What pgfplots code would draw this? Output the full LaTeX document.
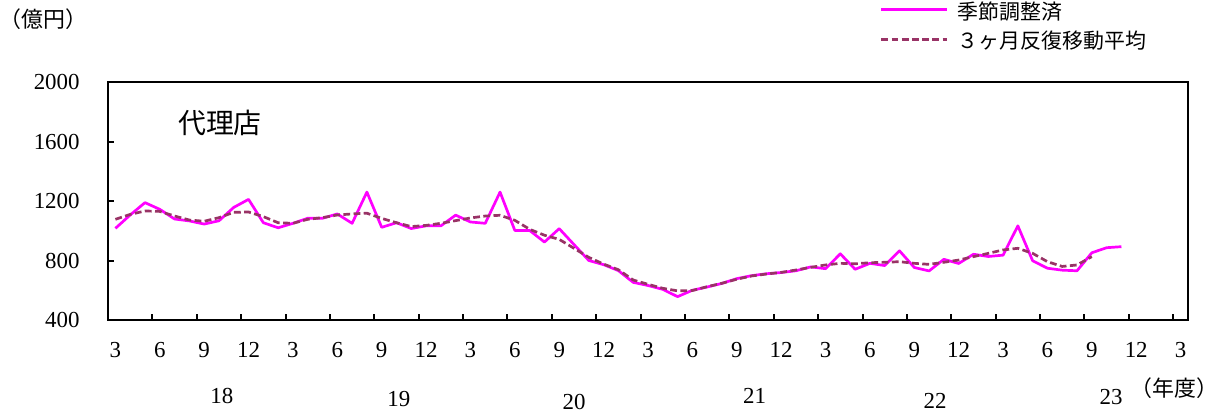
\documentclass[border=0pt]{standalone}
\usepackage{fontspec}
\setmainfont{Liberation Serif}
\newfontfamily\cjk{Noto Sans CJK JP}
\usepackage{pgfplots}
\pgfplotsset{compat=1.18}
\definecolor{magline}{RGB}{255,0,255}
\definecolor{maline}{RGB}{153,51,102}
\begin{document}
\begin{tikzpicture}
\useasboundingbox (-54bp,-46bp) rectangle (555bp,160bp);
\begin{axis}[
  at={(0,0)}, anchor=south west,
  width=540bp, height=119bp, scale only axis,
  xmin=-0.5, xmax=72.5, ymin=400, ymax=2000,
  clip=false,
  axis line style={line width=1.2bp},
  xtick={-0.5,2.5,...,71.5},
  xticklabels={3,6,9,12,3,6,9,12,3,6,9,12,3,6,9,12,3,6,9,12,3,6,9,12,3},
  xticklabel style={anchor=north, inner sep=0pt, yshift=-11bp, xshift=3.6986bp},
  ytick={400,800,1200,1600,2000},
  yticklabels={400,800,1200,1600,2000},
  yticklabel style={anchor=east, inner sep=0pt, xshift=-14bp},
  tick label style={font=\fontsize{11.5}{13}\selectfont},
  tick align=inside, tick pos=left,
  major tick length=2.8bp,
  tick style={line width=1bp, black},
  legend image code/.code={\draw[#1] (0bp,1bp) -- (33bp,1bp); \path (37.5bp,0bp);},
  legend style={draw=none, fill=none, inner sep=0pt, outer sep=0pt,
    at={(axis description cs:0.7148,1.3386)}, anchor=north west,
    font=\cjk\fontsize{10.5}{12}\selectfont, row sep=4.5bp,
    nodes={inner sep=0pt, anchor=west}},
  legend cell align=left,
]
\addplot[magline, line width=1.35bp, line join=round] coordinates {
(0,1016)(1,1106)(2,1189)(3,1144)(4,1079)(5,1066)(6,1045)(7,1067)(8,1157)(9,1211)
(10,1054)(11,1020)(12,1050)(13,1084)(14,1084)(15,1113)(16,1050)(17,1260)(18,1023)(19,1054)
(20,1015)(21,1033)(22,1033)(23,1105)(24,1059)(25,1050)(26,1260)(27,1002)(28,1002)(29,924)
(30,1014)(31,907)(32,800)(33,772)(34,732)(35,653)(36,632)(37,606)(38,557)(39,600)
(40,622)(41,646)(42,678)(43,698)(44,711)(45,719)(46,731)(47,757)(48,745)(49,845)
(50,741)(51,781)(52,766)(53,865)(54,753)(55,730)(56,808)(57,780)(58,842)(59,827)
(60,836)(61,1033)(62,798)(63,748)(64,735)(65,731)(66,852)(67,886)(68,893)
};
\addlegendentry{季節調整済}
\addplot[maline, line width=1.35bp, dash pattern=on 3.4bp off 1.7bp] coordinates {
(0,1077)(1,1110)(2,1133)(3,1130)(4,1099)(5,1072)(6,1064)(7,1088)(8,1124)(9,1126)
(10,1095)(11,1054)(12,1050)(13,1077)(14,1088)(15,1106)(16,1113)(17,1118)(18,1083)(19,1054)
(20,1028)(21,1036)(22,1050)(23,1068)(24,1086)(25,1099)(26,1104)(27,1070)(28,1010)(29,970)
(30,942)(31,882)(32,821)(33,776)(34,738)(35,669)(36,640)(37,613)(38,596)(39,598)
(40,624)(41,647)(42,674)(43,696)(44,709)(45,720)(46,736)(47,754)(48,770)(49,781)
(50,778)(51,785)(52,788)(53,792)(54,781)(55,774)(56,788)(57,803)(58,826)(59,848)
(60,871)(61,882)(62,848)(63,792)(64,760)(65,770)(66,826)
};
\addlegendentry{３ヶ月反復移動平均}
\begin{scope}[every node/.style={inner sep=0pt}]
\node[font=\cjk\fontsize{14}{16}\selectfont] at (axis cs:7.07,1724) {代理店};
\node[font=\cjk\fontsize{11}{13}\selectfont] at (axis cs:-4.85,2425) {\kern-0.35em（億円）\kern-0.35em};
\node[font=\cjk\fontsize{11}{13}\selectfont] at (axis cs:71.58,-57) {\kern-0.35em（年度）\kern-0.35em};
\end{scope}
\begin{scope}[every node/.style={inner sep=0pt, font=\fontsize{11.5}{13}\selectfont}]
\node at (axis cs:7.2,-111) {18};
\node at (axis cs:19.16,-131) {19};
\node at (axis cs:31.0,-151) {20};
\node at (axis cs:43.2,-111) {21};
\node at (axis cs:55.4,-144) {22};
\node at (axis cs:67.3,-118) {23};
\end{scope}
\end{axis}
\end{tikzpicture}
\end{document}
